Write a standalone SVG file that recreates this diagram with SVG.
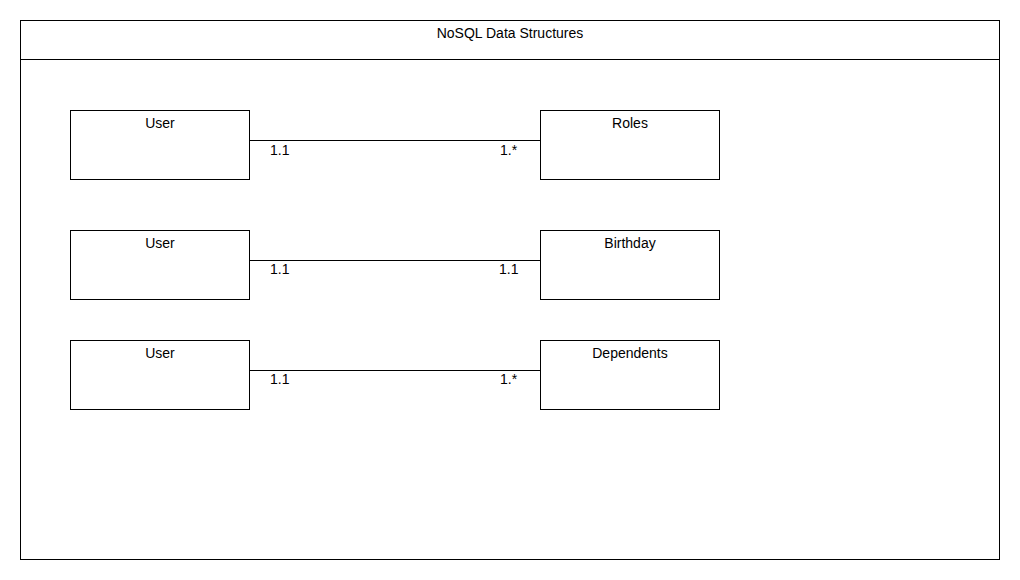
<svg xmlns="http://www.w3.org/2000/svg" width="1020" height="580" viewBox="0 0 1020 580">
<style>
.box{fill:#fff;stroke:#000;stroke-width:1}
.t{font-family:"Liberation Sans",Arial,sans-serif;font-size:14px;fill:#000}
.c{text-anchor:middle}
.ln{stroke:#000;stroke-width:1;fill:none}
</style>
<rect width="1020" height="580" fill="#fff"/>
<g id="frame">
<rect class="box" x="20.5" y="20.5" width="979" height="539"/>
<line class="ln" x1="20.5" y1="59.5" x2="999.5" y2="59.5"/>
<text class="t c" x="510" y="38">NoSQL Data Structures</text>
</g>
<g id="connectors">
<line class="ln" x1="249.5" y1="140.5" x2="540.5" y2="140.5"/>
<line class="ln" x1="249.5" y1="260.5" x2="540.5" y2="260.5"/>
<line class="ln" x1="249.5" y1="370.5" x2="540.5" y2="370.5"/>
<text class="t" x="270" y="155">1.1</text>
<text class="t" x="500" y="155">1.*</text>
<text class="t" x="270" y="274">1.1</text>
<text class="t" x="499" y="274">1.1</text>
<text class="t" x="270" y="384">1.1</text>
<text class="t" x="500" y="384">1.*</text>
</g>
<g id="user1"><rect class="box" x="70.5" y="110.5" width="179" height="69"/><text class="t c" x="160" y="128">User</text></g>
<g id="roles"><rect class="box" x="540.5" y="110.5" width="179" height="69"/><text class="t c" x="630" y="128">Roles</text></g>
<g id="user2"><rect class="box" x="70.5" y="230.5" width="179" height="69"/><text class="t c" x="160" y="248">User</text></g>
<g id="birthday"><rect class="box" x="540.5" y="230.5" width="179" height="69"/><text class="t c" x="630" y="248">Birthday</text></g>
<g id="user3"><rect class="box" x="70.5" y="340.5" width="179" height="69"/><text class="t c" x="160" y="358">User</text></g>
<g id="dependents"><rect class="box" x="540.5" y="340.5" width="179" height="69"/><text class="t c" x="630" y="358">Dependents</text></g>
</svg>
